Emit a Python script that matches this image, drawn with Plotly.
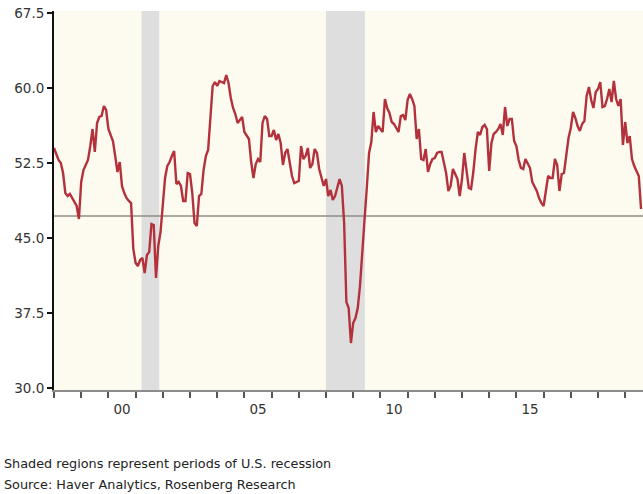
import plotly.graph_objects as go

# ISM-style manufacturing index, monthly values (Jan 1998 - Aug 2019)
start_year = 1998
pmi_1998 = [54.0, 53.4, 52.8, 52.5, 51.5, 49.5, 49.2, 49.4, 49.0, 48.6, 48.2, 46.9]
pmi_1999 = [50.6, 51.8, 52.4, 52.8, 54.2, 55.9, 53.6, 56.5, 57.1, 57.2, 58.2, 57.8]
pmi_2000 = [55.9, 55.2, 54.7, 53.2, 51.6, 52.6, 50.2, 49.5, 49.0, 48.7, 48.5, 43.9]
pmi_2001 = [42.5, 42.2, 42.8, 43.0, 41.5, 43.3, 43.6, 46.4, 46.3, 41.0, 44.2, 45.6]
pmi_2002 = [48.6, 51.0, 52.2, 52.6, 53.2, 53.7, 50.4, 50.6, 50.2, 48.7, 48.7, 51.5]
pmi_2003 = [51.4, 49.5, 46.5, 46.2, 49.2, 49.4, 51.8, 53.2, 53.8, 57.0, 60.2, 60.6]
pmi_2004 = [60.2, 60.7, 60.6, 60.5, 61.3, 60.5, 59.0, 58.0, 57.4, 56.5, 56.8, 57.1]
pmi_2005 = [55.6, 55.2, 54.9, 52.6, 51.0, 52.4, 52.9, 52.6, 56.5, 57.2, 56.9, 55.2]
pmi_2006 = [55.2, 55.8, 54.8, 55.4, 54.5, 52.3, 53.5, 53.9, 52.3, 51.2, 50.5, 50.6]
pmi_2007 = [50.7, 54.2, 52.9, 53.2, 54.0, 52.0, 52.4, 53.9, 53.5, 51.9, 51.0, 50.2]
pmi_2008 = [50.9, 49.2, 49.8, 48.8, 49.2, 50.0, 50.9, 50.2, 46.5, 38.6, 38.0, 34.5]
pmi_2009 = [36.5, 37.0, 38.0, 40.2, 44.0, 46.8, 50.0, 53.5, 54.6, 57.6, 55.6, 56.2]
pmi_2010 = [55.9, 55.6, 58.9, 58.0, 57.5, 56.6, 56.4, 56.0, 55.6, 57.2, 57.3, 56.8]
pmi_2011 = [58.8, 59.4, 58.9, 58.2, 54.9, 55.9, 52.9, 52.8, 53.9, 51.6, 52.4, 52.9]
pmi_2012 = [53.0, 53.5, 53.6, 53.6, 52.4, 51.5, 49.7, 50.2, 51.9, 51.4, 50.9, 49.2]
pmi_2013 = [50.9, 53.5, 52.0, 50.0, 49.9, 51.6, 53.9, 55.6, 55.3, 56.1, 56.3, 55.9]
pmi_2014 = [51.7, 54.5, 55.4, 55.6, 55.9, 56.4, 55.3, 58.1, 56.2, 56.9, 56.9, 54.7]
pmi_2015 = [54.2, 52.8, 52.0, 51.9, 52.9, 52.4, 52.0, 50.6, 50.1, 49.7, 49.0, 48.5]
pmi_2016 = [48.2, 49.5, 51.2, 51.0, 51.0, 52.9, 52.3, 49.7, 51.4, 51.5, 53.2, 55.0]
pmi_2017 = [56.0, 57.6, 57.0, 56.2, 55.7, 56.4, 56.7, 59.2, 60.1, 58.8, 58.0, 59.6]
pmi_2018 = [59.9, 60.6, 58.1, 58.2, 58.9, 59.9, 58.6, 60.7, 58.9, 58.2, 58.9, 54.3]
pmi_2019 = [56.6, 54.5, 55.2, 52.9, 52.2, 51.7, 51.2, 47.9]

yearly_values = [pmi_1998, pmi_1999, pmi_2000, pmi_2001, pmi_2002, pmi_2003,
                 pmi_2004, pmi_2005, pmi_2006, pmi_2007, pmi_2008, pmi_2009,
                 pmi_2010, pmi_2011, pmi_2012, pmi_2013, pmi_2014, pmi_2015,
                 pmi_2016, pmi_2017, pmi_2018, pmi_2019]

# Recession periods (decimal years) and reference level
recession_starts = [2001.22, 2008.0]
recession_ends = [2001.87, 2009.43]
reference_level = 47.2

# Axis ticks
y_ticks = [30.0, 37.5, 45.0, 52.5, 60.0, 67.5]
x_label_years = [2000, 2005, 2010, 2015]
x_label_text = ["00", "05", "10", "15"]
year_ticks = list(range(1998, 2020))

note_lines = ["Shaded regions represent periods of U.S. recession",
              "Source: Haver Analytics, Rosenberg Research"]

# Build monthly series
x_vals, y_vals = [], []
for i, vals in enumerate(yearly_values):
    for j, v in enumerate(vals):
        x_vals.append(start_year + i + j / 12.0)
        y_vals.append(v)

fig = go.Figure()
fig.add_trace(go.Scatter(x=x_vals, y=y_vals, mode="lines",
                         line=dict(color="#B2313B", width=2.4),
                         hoverinfo="skip", showlegend=False))

for s, e in zip(recession_starts, recession_ends):
    fig.add_shape(type="rect", xref="x", yref="paper", x0=s, x1=e, y0=0, y1=1,
                  fillcolor="#DEDEDE", line=dict(width=0), layer="below")

fig.add_shape(type="line", xref="paper", yref="y", x0=0, x1=1,
              y0=reference_level, y1=reference_level,
              line=dict(color="#8E8E86", width=1.6), layer="below")

font_family = "DejaVu Sans, Verdana, sans-serif"

fig.update_layout(
    width=643, height=494,
    margin=dict(l=54, r=0, t=11, b=104),
    paper_bgcolor="white",
    plot_bgcolor="#FDFAF0",
    font=dict(family=font_family, color="#333333", size=13),
    xaxis=dict(
        range=[1998.0, 2019.655],
        tickmode="array",
        tickvals=[y + 0.5 for y in x_label_years],
        ticktext=x_label_text,
        ticks="outside", ticklen=6, tickcolor="rgba(0,0,0,0)",
        showline=True, linecolor="#8C8C8C", linewidth=2,
        showgrid=False, zeroline=False,
        tickfont=dict(size=13.5, color="#333333"),
        minor=dict(tickmode="array", tickvals=year_ticks, ticks="outside",
                   ticklen=6, tickwidth=1.5, tickcolor="#555555", showgrid=False),
    ),
    yaxis=dict(
        range=[29.8, 67.7],
        tickmode="array",
        tickvals=y_ticks,
        tickformat=".1f",
        ticks="outside", ticklen=5, tickwidth=1.5, tickcolor="#111111",
        showline=True, linecolor="#111111", linewidth=2,
        showgrid=False, zeroline=False,
        tickfont=dict(size=13.5, color="#333333"),
    ),
    annotations=[
        dict(xref="paper", yref="paper", x=(2 - 54) / 589, y=(390 - 463) / 379,
             xanchor="left", yanchor="middle", showarrow=False,
             text=note_lines[0], font=dict(size=12.8, color="#222222")),
        dict(xref="paper", yref="paper", x=(2 - 54) / 589, y=(390 - 484) / 379,
             xanchor="left", yanchor="middle", showarrow=False,
             text=note_lines[1], font=dict(size=12.8, color="#222222")),
    ],
)

fig.write_html("out.html", config={"displayModeBar": False},
               post_script="document.body.style.margin='0';")
